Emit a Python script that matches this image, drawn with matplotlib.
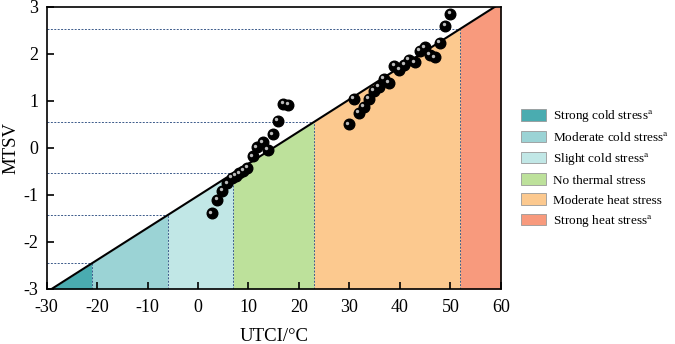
import numpy as np
import matplotlib
matplotlib.use('Agg')
import matplotlib.pyplot as plt
from matplotlib.patches import Patch
from matplotlib.transforms import offset_copy

plt.rcParams['font.family'] = ['Liberation Serif', 'DejaVu Serif']
plt.rcParams['mathtext.fontset'] = 'stix'

# observed points (UTCI, MTSV)
utci = [2.8, 3.8, 4.8, 5.8, 6.7, 7.5, 8.2, 9.0, 9.8, 10.8, 11.7, 12.8, 13.8,
        14.8, 15.8, 16.9, 17.9,
        29.9, 30.9, 31.9, 32.9, 33.9, 34.9, 35.8, 36.8, 37.8, 38.9, 39.9,
        40.9, 41.8, 43.0, 44.0, 44.95, 45.9, 46.9, 47.9, 49.0, 50.0]
mtsv = [-1.39, -1.11, -0.91, -0.75, -0.64, -0.60, -0.54, -0.49, -0.42, -0.18,
        0.01, 0.12, -0.04, 0.29, 0.57, 0.94, 0.92,
        0.50, 1.04, 0.74, 0.87, 1.04, 1.22, 1.30, 1.47, 1.39, 1.74, 1.66,
        1.77, 1.87, 1.82, 2.07, 2.14, 1.98, 1.93, 2.24, 2.60, 2.85]

# fitted line end points
line_x = [-29.0, 58.8]
line_y = [-3.0, 3.0]

# category boundaries on UTCI
bounds = [-30, -21, -6, 7, 23, 52, 60]
labels = ['Strong cold stress$^\\mathrm{a}$', 'Moderate cold stress$^\\mathrm{a}$',
          'Slight cold stress$^\\mathrm{a}$', 'No thermal stress',
          'Moderate heat stress', 'Strong heat stress$^\\mathrm{a}$']
colors = ['#4aacb0', '#9bd3d5', '#c1e7e6', '#bde19b', '#fcc98f', '#f89a7d']

fig = plt.figure(figsize=(6.75, 3.44), dpi=100)
ax = fig.add_axes([0.069, 0.16, 0.673, 0.82])

slope = (line_y[1] - line_y[0]) / (line_x[1] - line_x[0])

def line_at(x):
    return np.clip(line_y[0] + slope * (np.asarray(x) - line_x[0]), -3, 3)

for i in range(len(colors)):
    xs = np.linspace(bounds[i], bounds[i + 1], 200)
    ax.fill_between(xs, -3, line_at(xs), color=colors[i], lw=0, zorder=1)

ax.plot(line_x, line_y, color='black', lw=1.5, zorder=3)

dash_col = '#3b5a8a'
for b in bounds[1:-1]:
    yb = float(line_at(b))
    ax.plot([b, b], [-3, yb], ls=(0, (2, 1.5)), color=dash_col, lw=0.7, zorder=2)
    ax.plot([-30, b], [yb, yb], ls=(0, (2, 1.5)), color=dash_col, lw=0.7, zorder=2)

ax.scatter(utci, mtsv, s=58, color='black', zorder=4)
hl = offset_copy(ax.transData, fig=fig, x=-1.2, y=1.2, units='points')
ax.scatter(utci, mtsv, s=6, color='#bbbbbb', zorder=5, transform=hl, lw=0)

ax.set_xlim(-30, 60)
ax.set_ylim(-3, 3)
ax.set_xticks(range(-30, 61, 10))
ax.set_yticks(range(-3, 4))
ax.set_xticklabels([str(v) for v in range(-30, 61, 10)])
ax.set_yticklabels([str(v) for v in range(-3, 4)])
ax.tick_params(direction='in', length=5, width=1.2, labelsize=13)
ax.tick_params(axis='x', pad=7)
ax.tick_params(axis='y', pad=6)
for s in ax.spines.values():
    s.set_linewidth(1.2)
ax.set_xlabel('UTCI/°C', fontsize=13.5, labelpad=9)
ax.set_ylabel('MTSV', fontsize=13.5, labelpad=3)

handles = [Patch(facecolor=c, edgecolor='#999999', lw=0.6) for c in colors]
fig.legend(handles, labels, loc='upper left', bbox_to_anchor=(0.764, 0.700),
           frameon=False, fontsize=9.5, handlelength=1.9, handleheight=0.95,
           labelspacing=0.5, handletextpad=0.55, borderaxespad=0)

fig.savefig('out.png', dpi=100)
